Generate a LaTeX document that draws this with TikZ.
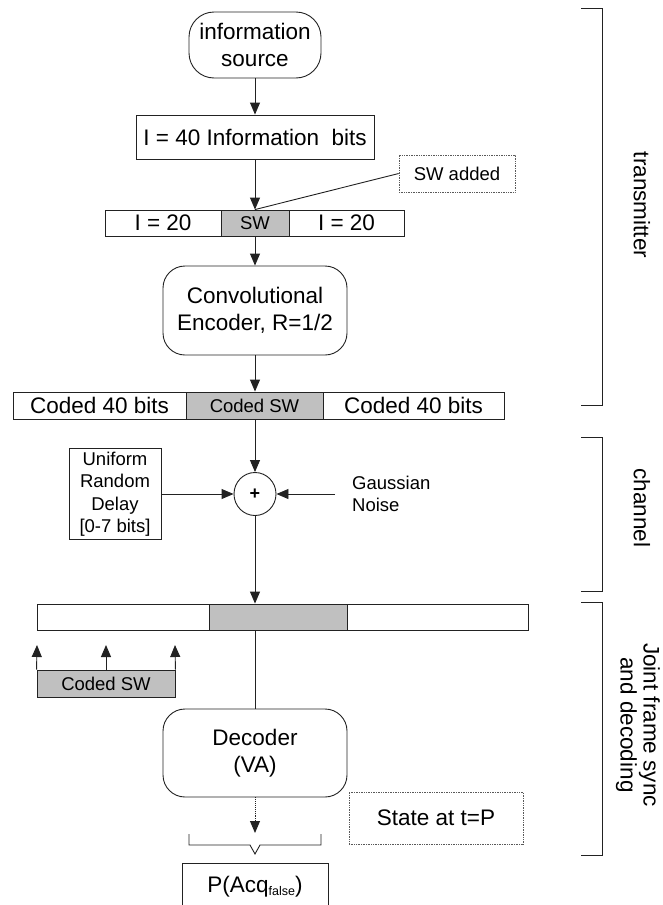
\documentclass[tikz,border=0pt]{standalone}
\usepackage{fontspec}
\setmainfont{Liberation Sans}
\usetikzlibrary{arrows.meta,shapes.geometric}
\definecolor{swgray}{HTML}{C0C0C0}
\definecolor{ink}{HTML}{222222}
\tikzset{
  every node/.style={font=\fontsize{22.5}{27}\selectfont, text=black},
  lw/.style={draw=ink, line width=0.9pt},
  blk/.style={lw, inner sep=0pt, align=center},
  rbox/.style={blk, rounded corners=22pt},
  cell/.style={blk, minimum height=26pt},
  gcell/.style={cell, fill=swgray},
  note/.style={draw=black!65, densely dotted, line width=0.7pt, inner sep=0pt},
  arr/.style={lw, -{Triangle[length=12pt,width=10pt]}},
  small/.style={font=\fontsize{18.5}{22.5}\selectfont},
}
\begin{document}
\begin{tikzpicture}[x=1pt,y=-1pt]
\useasboundingbox (0,0) rectangle (662,905);
\clip (0,0) rectangle (662,905);

% transmitter chain
\node[rbox, rounded corners=25pt, minimum width=132pt, minimum height=66pt] (src) at (255,45) {information\\source};
\node[blk, minimum width=238pt, minimum height=44pt] (info) at (255,137) {I = 40 Information~~bits};
\node[note, small, minimum width=116pt, minimum height=37pt] (swadd) at (457,173.5) {SW added};

\node[cell, minimum width=116pt] (l1) at (163,223) {I = 20};
\node[gcell, small, minimum width=68pt] (sw1) at (255,223) {SW};
\node[cell, minimum width=115pt] (r1) at (346.5,223) {I = 20};

\node[rbox, minimum width=184pt, minimum height=89pt] (enc) at (255,310.5) {Convolutional\\Encoder, R=1/2};

\node[cell, minimum width=173pt, minimum height=27pt] (l2) at (99.5,405.5) {Coded 40 bits};
\node[gcell, small, minimum width=137pt, minimum height=27pt] (m2) at (254.5,405.5) {Coded SW};
\node[cell, minimum width=181pt, minimum height=27pt] (r2) at (413.5,405.5) {Coded 40 bits};

\draw[arr] (src) -- (info);
\draw[arr] (info) -- (sw1);
\draw[lw] (swadd.west) -- (sw1.north);
\draw[arr] (sw1) -- (enc);
\draw[arr] (enc.south) -- (enc.south |- l2.north);

% channel
\node[draw=ink, line width=0.9pt, ellipse, minimum width=42pt, minimum height=43pt, inner sep=0pt,
      font=\bfseries\fontsize{18}{18}\selectfont] (sum) at (255,494) {+};
\node[blk, small, minimum width=92pt, minimum height=91pt] (delay) at (115,494) {Uniform\\Random\\Delay\\{[0-7 bits]}};
\node[small, align=left, anchor=west, inner xsep=17pt, inner ysep=0pt] (noise) at (335,494) {Gaussian\\Noise};

\draw[arr] (enc.south |- l2.south) -- (sum.north);
\draw[arr] (delay.east) -- (sum.west);
\draw[arr] (noise.west) -- (sum.east);

% receiver
\node[cell, minimum width=172pt] (l3) at (123,617) {};
\node[gcell, minimum width=138pt] (m3) at (278,617) {};
\node[cell, minimum width=181pt] (r3) at (437.5,617) {};
\draw[arr] (sum.south) -- (sum.south |- m3.north);

\node[gcell, small, minimum width=138pt, minimum height=27pt] (csw) at (106,683.5) {Coded SW};
\coordinate (ua) at (37,645);
\coordinate (ub) at (106,645);
\coordinate (uc) at (175,645);
\draw[arr] (csw.north west) -- (ua);
\draw[arr] (csw.north) -- (ub);
\draw[arr] (csw.north east) -- (uc);

\node[rbox, minimum width=184pt, minimum height=88pt] (dec) at (255,753) {Decoder\\(VA)};
\draw[lw] (dec.north |- m3.south) -- (dec.north);

\node[note, minimum width=174pt, minimum height=52pt] (state) at (436,818) {State at t=P};

\coordinate (dtip) at (255,833);
\draw[arr, densely dotted] (dec.south) -- (dtip);
\draw[lw] (189,834) -- (189,845) -- (250,845) -- (255,854) -- (260,845) -- (321,845) -- (321,834);

\node[blk, minimum width=146pt, anchor=north, text height=17pt, text depth=30pt, inner ysep=12pt] (pacq) at (255,863)
  {P(Acq{\fontsize{12.5}{12.5}\selectfont\raisebox{-3pt}{false}})};

% section brackets
\draw[lw] (581,8) -- (602,8) -- (602,405) -- (581,405);
\draw[lw] (581,437) -- (602,437) -- (602,591) -- (581,591);
\draw[lw] (581,602) -- (602,602) -- (602,855) -- (581,855);
\node[rotate=-90] (ltx) at (642,205) {transmitter};
\node[rotate=-90] (lch) at (642,508) {channel};
\node[rotate=-90, align=center, font=\fontsize{22.5}{23}\selectfont] (ljf) at (638,725) {Joint frame sync\\and decoding};
\end{tikzpicture}
\end{document}
